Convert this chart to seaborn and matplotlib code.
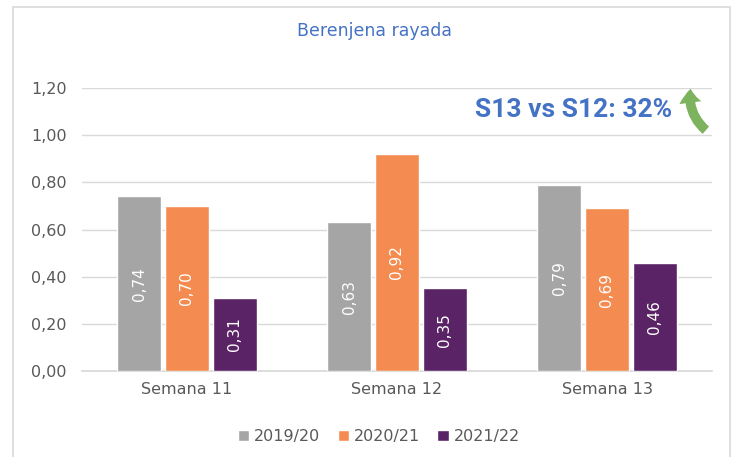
import numpy as np
import pandas as pd
import seaborn as sns
import matplotlib.pyplot as plt
from matplotlib.patches import Rectangle, FancyArrowPatch

weeks = ["Semana 11", "Semana 12", "Semana 13"]
seasons = ["2019/20", "2020/21", "2021/22"]
v_1920 = [0.74, 0.63, 0.79]
v_2021 = [0.70, 0.92, 0.69]
v_2122 = [0.31, 0.35, 0.46]
colors = ["#A5A5A5", "#F48C51", "#5A2365"]

df = pd.DataFrame({
    "semana": weeks * 3,
    "temporada": [s for s in seasons for _ in weeks],
    "valor": v_1920 + v_2021 + v_2122,
})

sns.set_theme(style="white")
plt.rcParams['font.family'] = ['DejaVu Sans']

fig = plt.figure(figsize=(7.32, 4.57), dpi=100)
ax = fig.add_axes([82 / 732, 1 - 371 / 457, 630 / 732, 283 / 457])

sns.barplot(data=df, x="semana", y="valor", hue="temporada", palette=colors,
            saturation=1, width=0.684, gap=0.08, ax=ax, legend=True, zorder=3)

for cont in ax.containers:
    labels = [f"{b.get_height():.2f}".replace(".", ",") for b in cont]
    ax.bar_label(cont, labels=labels, label_type="center", rotation=90,
                 color="white", fontsize=11)

ticks = np.arange(0, 1.21, 0.2)
ax.set_ylim(0, 1.2)
ax.set_yticks(ticks)
ax.set_yticklabels([f"{t:.2f}".replace(".", ",") for t in ticks],
                   color="#595959", fontsize=11.5)
ax.tick_params(axis="x", colors="#595959", labelsize=11.5, length=0, pad=8)
ax.tick_params(axis="y", length=0, pad=11)
ax.yaxis.grid(True, color="#D9D9D9", linewidth=1, zorder=0)
ax.set_xlabel("")
ax.set_ylabel("")
for s in ["top", "right", "left"]:
    ax.spines[s].set_visible(False)
ax.spines["bottom"].set_color("#D9D9D9")
ax.set_xlim(-0.5, 2.5)

leg = ax.legend(loc="upper center", bbox_to_anchor=(0.471, -0.155), ncol=3,
                frameon=False, handlelength=0.7, handleheight=0.7,
                handletextpad=0.3, columnspacing=1.1, fontsize=11.5)
for t in leg.get_texts():
    t.set_color("#595959")

fig.text(375 / 732, 1 - 31 / 457, "Berenjena rayada", ha="center", va="center",
         color="#4472C4", fontsize=12.5)

fig.text(672 / 732, 1 - 110 / 457, "S13 vs S12: 32%", ha="right", va="center",
         color="#4472C4", fontsize=19, fontweight="bold",
         family=["Roboto", "DejaVu Sans"])

arr = FancyArrowPatch((708 / 732, 1 - 132 / 457), (691 / 732, 1 - 86 / 457),
                      transform=fig.transFigure, connectionstyle="arc3,rad=-0.3",
                      arrowstyle="simple,head_width=16,head_length=10,tail_width=7",
                      color="#7DB35E", lw=0)
fig.patches.append(arr)

fig.patches.append(Rectangle((13 / 732, -0.01), 717 / 732, 1 - 7 / 457 + 0.01,
                             transform=fig.transFigure, fill=False,
                             edgecolor="#D9D9D9", linewidth=1.2))

fig.savefig("out.png", dpi=100)
